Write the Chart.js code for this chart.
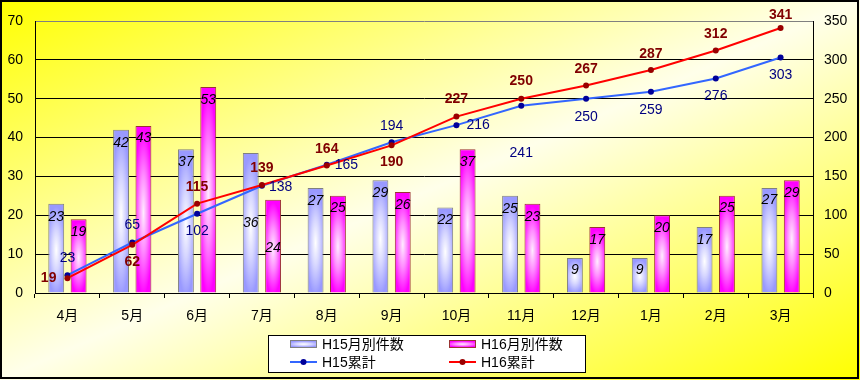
<!DOCTYPE html>
<html><head><meta charset="utf-8">
<script src="https://cdn.jsdelivr.net/npm/chart.js@4"></script>
<style>html,body{margin:0;padding:0;background:#fff;} #wrap{width:860px;height:380px;position:relative;}</style>
</head><body><div id="wrap"><canvas id="c" width="860" height="380"></canvas></div>
<script>
// ---- data ----
const categories = ['4月','5月','6月','7月','8月','9月','10月','11月','12月','1月','2月','3月'];
const h15Monthly = [23,42,37,36,27,29,22,25,9,9,17,27];
const h16Monthly = [19,43,53,24,25,26,37,23,17,20,25,29];
const h15Cumulative = [23,65,102,138,165,194,216,241,250,259,276,303];
const h16Cumulative = [19,62,115,139,164,190,227,250,267,287,312,341];
const seriesNames = ['H15月別件数','H16月別件数','H15累計','H16累計'];
const leftTicks = [0,10,20,30,40,50,60,70];
const rightTicks = [0,50,100,150,200,250,300,350];

// ---- label placement (styling only) ----
const h15BarLabelDrop = [13,13,13,70,13,13,13,13,12,12,13,12];
const h16BarLabelDrop = [13,12,13,48,12,13,13,13,13,13,12,13];
const h15LineLabelPos = [[0,-17,'center'],[0,-17,'center'],[0,17,'center'],[7,1,'left'],[8,0,'left'],[0,-16,'center'],[10,0,'left'],[0,47,'center'],[0,18,'center'],[0,18,'center'],[0,18,'center'],[0,18,'center']];
const h16LineLabelPos = [[-11,0,'right'],[0,17,'center'],[0,-16,'center'],[0,-17,'center'],[0,-16,'center'],[0,17,'center'],[0,-17,'center'],[0,-18,'center'],[0,-16,'center'],[0,-16,'center'],[0,-16,'center'],[0,-13,'center']];

const FONT = '"Liberation Sans", "Noto Sans CJK JP", sans-serif';
const CJK = '"Liberation Sans", "Noto Sans CJK JP", sans-serif';
const CAT_PCT = 0.69, BAR_PCT = 0.71;
const H15_EDGE = '#9999ff', H15_MID = '#ffffff', H15_BORDER = '#808080';
const H16_EDGE = '#ff00ff', H16_MID = '#ffe8ff', H16_BORDER = '#993333';
const H15_LINE = '#3366ff', H15_PT = '#000099', H15_TXT = '#000080';
const H16_LINE = '#ff0000', H16_PT = '#990000', H16_TXT = '#800000';

function shadeRect(c, x0, y0, w, h, midRgb) {
  c.save();
  c.beginPath();
  c.rect(x0, y0, w, h);
  c.clip();
  c.translate(x0 + w / 2, y0 + h * 0.52);
  c.scale(w / 2 * 1.35, h / 2 * 1.0);
  const g = c.createRadialGradient(0, 0, 0, 0, 0, 1);
  g.addColorStop(0, 'rgba(' + midRgb + ',1)');
  g.addColorStop(0.45, 'rgba(' + midRgb + ',0.6)');
  g.addColorStop(1, 'rgba(' + midRgb + ',0)');
  c.fillStyle = g;
  c.fillRect(-2, -2, 4, 4);
  c.restore();
}

const bgPlugin = {
  id: 'bg',
  beforeDraw(chart) {
    const c = chart.ctx;
    c.save();
    c.scale(chart.width, chart.height);
    const g = c.createLinearGradient(0, 0, 1, 1);
    g.addColorStop(0, '#ffff00');
    g.addColorStop(0.5, '#ffffea');
    g.addColorStop(1, '#ffff00');
    c.fillStyle = g;
    c.fillRect(0, 0, 1, 1);
    c.restore();
  }
};

const barShadePlugin = {
  id: 'barShade',
  afterDatasetDraw(chart, args) {
    const meta = args.meta;
    if (meta.type !== 'bar') return;
    const midRgb = args.index === 0 ? '255,255,255' : '255,236,255';
    const c = chart.ctx;
    meta.data.forEach(el => {
      const p = el.getProps(['x', 'y', 'base', 'width'], true);
      const x0 = p.x - p.width / 2 + 1, w = p.width - 2;
      const y0 = p.y + 1, h = p.base - p.y - 1;
      if (h <= 0) return;
      shadeRect(c, x0, y0, w, h, midRgb);
    });
  }
};

const labelPlugin = {
  id: 'labels',
  afterDraw(chart) {
    const c = chart.ctx;
    c.save();
    // bar labels
    const drops = [h15BarLabelDrop, h16BarLabelDrop];
    [0, 1].forEach(di => {
      const meta = chart.getDatasetMeta(di);
      const vals = chart.data.datasets[di].data;
      c.font = 'italic 14px ' + FONT;
      c.fillStyle = '#000000';
      c.textAlign = 'center';
      c.textBaseline = 'middle';
      meta.data.forEach((el, i) => {
        c.fillText(String(vals[i]), el.x, el.y + drops[di][i]);
      });
    });
    // line labels
    const cfg = [
      { di: 2, pos: h15LineLabelPos, font: '14px ' + FONT, color: H15_TXT },
      { di: 3, pos: h16LineLabelPos, font: 'bold 14px ' + FONT, color: H16_TXT }
    ];
    cfg.forEach(s => {
      const meta = chart.getDatasetMeta(s.di);
      const vals = chart.data.datasets[s.di].data;
      c.font = s.font;
      c.fillStyle = s.color;
      c.textBaseline = 'middle';
      meta.data.forEach((el, i) => {
        const [dx, dy, al] = s.pos[i];
        c.textAlign = al;
        c.fillText(String(vals[i]), el.x + dx, el.y + dy);
      });
    });
    // legend
    const lx = 268.5, ly = 335.5, lw = 317, lh = 37;
    c.fillStyle = '#ffffff';
    c.fillRect(lx, ly, lw, lh);
    c.strokeStyle = '#000000';
    c.lineWidth = 1;
    c.strokeRect(lx, ly, lw, lh);
    const cols = [290, 449];
    const rows = [344, 362];
    const edges = [H15_EDGE, H16_EDGE], borders = [H15_BORDER, H16_BORDER];
    const mids = ['255,255,255', '255,236,255'];
    c.font = '14px ' + CJK;
    c.textAlign = 'left';
    c.textBaseline = 'middle';
    for (let k = 0; k < 2; k++) {
      const x = cols[k], y = rows[0];
      c.fillStyle = edges[k];
      c.fillRect(x, y - 4, 27, 8);
      shadeRect(c, x + 1, y - 3, 25, 6, mids[k]);
      c.strokeStyle = borders[k];
      c.lineWidth = 1;
      c.strokeRect(x + 0.5, y - 3.5, 26, 7);
      c.fillStyle = '#000000';
      c.fillText(seriesNames[k], x + 32, y + 1);
    }
    const lineCols = [H15_LINE, H16_LINE], ptCols = [H15_PT, H16_PT];
    for (let k = 0; k < 2; k++) {
      const x = cols[k], y = rows[1];
      c.strokeStyle = lineCols[k];
      c.lineWidth = 2;
      c.beginPath(); c.moveTo(x, y); c.lineTo(x + 27, y); c.stroke();
      c.fillStyle = ptCols[k];
      c.beginPath(); c.arc(x + 13.5, y, 3, 0, Math.PI * 2); c.fill();
      c.fillStyle = '#000000';
      c.fillText(seriesNames[k + 2], x + 32, y + 1);
    }
    // outer border
    c.strokeStyle = '#000000';
    c.lineWidth = 2;
    c.strokeRect(1, 1, 857, 377);
    c.restore();
  }
};

new Chart(document.getElementById('c'), {
  data: {
    labels: categories,
    datasets: [
      { type: 'bar', label: seriesNames[0], data: h15Monthly, yAxisID: 'y', order: 3,
        backgroundColor: H15_EDGE, borderColor: H15_BORDER, borderWidth: 1,
        categoryPercentage: CAT_PCT, barPercentage: BAR_PCT },
      { type: 'bar', label: seriesNames[1], data: h16Monthly, yAxisID: 'y', order: 3,
        backgroundColor: H16_EDGE, borderColor: H16_BORDER, borderWidth: 1,
        categoryPercentage: CAT_PCT, barPercentage: BAR_PCT },
      { type: 'line', label: seriesNames[2], data: h15Cumulative, yAxisID: 'y2', order: 2,
        borderColor: H15_LINE, borderWidth: 2, tension: 0,
        pointRadius: 3, pointBackgroundColor: H15_PT, pointBorderColor: H15_PT, pointBorderWidth: 0 },
      { type: 'line', label: seriesNames[3], data: h16Cumulative, yAxisID: 'y2', order: 1,
        borderColor: H16_LINE, borderWidth: 2, tension: 0,
        pointRadius: 3, pointBackgroundColor: H16_PT, pointBorderColor: H16_PT, pointBorderWidth: 0 }
    ]
  },
  options: {
    responsive: false,
    animation: false,
    devicePixelRatio: 1,
    layout: { padding: { top: 21, left: 0, right: 0, bottom: 0 } },
    plugins: { legend: { display: false }, tooltip: { enabled: false } },
    scales: {
      x: {
        afterFit(s) { s.height = 87; },
        grid: { offset: true, drawOnChartArea: false, drawTicks: true, tickLength: 5, color: '#000000', lineWidth: 1 },
        border: { display: true, color: '#000000', width: 1 },
        ticks: { color: '#000000', font: { family: CJK, size: 14 }, padding: 10, maxRotation: 0 }
      },
      y: {
        position: 'left', min: 0, max: 70,
        afterFit(s) { s.width = 35; },
        afterBuildTicks(s) { s.ticks = leftTicks.map(v => ({ value: v })); },
        grid: { drawTicks: false, color: (ctx) => ctx.tick && ctx.tick.value === 70 ? '#808080' : '#000000', lineWidth: 1 },
        border: { display: true, color: '#000000', width: 1 },
        ticks: { color: '#000000', font: { family: FONT, size: 14 }, padding: 12 }
      },
      y2: {
        position: 'right', min: 0, max: 350,
        afterFit(s) { s.width = 47; },
        afterBuildTicks(s) { s.ticks = rightTicks.map(v => ({ value: v })); },
        grid: { drawOnChartArea: false, drawTicks: false },
        border: { display: true, color: '#000000', width: 1 },
        ticks: { color: '#000000', font: { family: FONT, size: 14 }, padding: 11 }
      }
    }
  },
  plugins: [bgPlugin, barShadePlugin, labelPlugin]
});
</script>
</body></html>
